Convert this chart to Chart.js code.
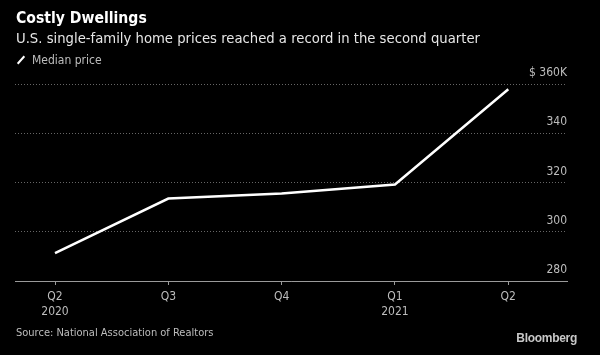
<!DOCTYPE html>
<html>
<head>
<meta charset="utf-8">
<script src="https://cdn.jsdelivr.net/npm/chart.js@4/dist/chart.umd.min.js"></script>
<style>
  html, body { margin: 0; padding: 0; background: #000; }
  body { width: 600px; height: 355px; position: relative; overflow: hidden;
         font-family: 'Liberation Sans Narrow', 'DejaVu Sans Condensed', sans-serif; }
  #wrap { position: absolute; left: 0; top: 0; width: 600px; height: 355px; }
  .t { position: absolute; white-space: nowrap; }
  #title { left: 16px; top: 8px; font-size: 15.6px; line-height: 20px; font-weight: bold; color: #fff; }
  #subtitle { left: 16px; top: 28px; font-size: 14.7px; line-height: 20px; color: #e6e6e6; }
  #legend { left: 14px; top: 52px; font-size: 12px; line-height: 16px; color: #bdbdbd; }
  #legend .icon { display: inline-block; width: 2px; height: 10px; background: #fff;
                  transform: rotate(42deg); vertical-align: -1px; margin: 0 10px 0 6px; }
  #source { left: 16px; top: 325px; font-size: 11px; line-height: 16px; color: #bdbdbd; }
  #brand { right: 23px; top: 330px; font-size: 12px; line-height: 16px; font-weight: bold; color: #c8c8c8;
           font-family: 'Liberation Sans', 'DejaVu Sans', sans-serif; letter-spacing: -0.3px; }
</style>
</head>
<body>
<div id="wrap"><canvas id="c" width="600" height="355"></canvas></div>
<div class="t" id="title">Costly Dwellings</div>
<div class="t" id="subtitle">U.S. single-family home prices reached a record in the second quarter</div>
<div class="t" id="legend"><span class="icon"></span>Median price</div>
<div class="t" id="source">Source: National Association of Realtors</div>
<div class="t" id="brand">Bloomberg</div>
<script>
const quarters = ["Q2", "Q3", "Q4", "Q1", "Q2"];
const years = ["2020", "", "", "2021", ""];
const medianPrice = [291.3, 313.5, 315.5, 319.2, 357.9]; // $ thousands
const yTickValues = [280, 300, 320, 340, 360];

const FONT = "'Liberation Sans Narrow', 'DejaVu Sans Condensed', sans-serif";

new Chart(document.getElementById('c'), {
  type: 'line',
  data: {
    datasets: [{
      label: 'Median price',
      data: medianPrice.map((v, i) => ({ x: i, y: v })),
      borderColor: '#ffffff',
      borderWidth: 2.5,
      pointRadius: 0,
      tension: 0,
      fill: false
    }]
  },
  options: {
    responsive: false,
    animation: false,
    events: [],
    layout: { padding: { left: 15, right: 33, top: 84, bottom: 32 } },
    plugins: { legend: { display: false }, tooltip: { enabled: false }, title: { display: false } },
    scales: {
      x: {
        type: 'linear',
        min: -0.353,
        max: 4.518,
        afterBuildTicks: s => { s.ticks = quarters.map((_, i) => ({ value: i })); },
        grid: { display: true, drawOnChartArea: false, drawTicks: true, tickLength: 4, color: '#9a9a9a' },
        border: { display: true, color: '#9a9a9a', width: 1, z: 1 },
        ticks: {
          color: '#bdbdbd',
          padding: 4,
          maxRotation: 0,
          autoSkip: false,
          font: { family: FONT, size: 12, lineHeight: 1.25 },
          callback: v => years[v] ? [quarters[v], years[v]] : quarters[v]
        }
      },
      y: {
        position: 'right',
        min: 280,
        max: 360,
        afterBuildTicks: s => { s.ticks = yTickValues.map(v => ({ value: v })); },
        grid: { display: true, drawTicks: false, color: '#666666', lineWidth: 1 },
        border: { display: false, dash: [1, 2] },
        ticks: {
          mirror: true,
          padding: 0,
          labelOffset: -11,
          color: '#bdbdbd',
          font: { family: FONT, size: 12 },
          callback: v => v === 360 ? '$ 360K' : String(v)
        }
      }
    }
  }
});
</script>
</body>
</html>
